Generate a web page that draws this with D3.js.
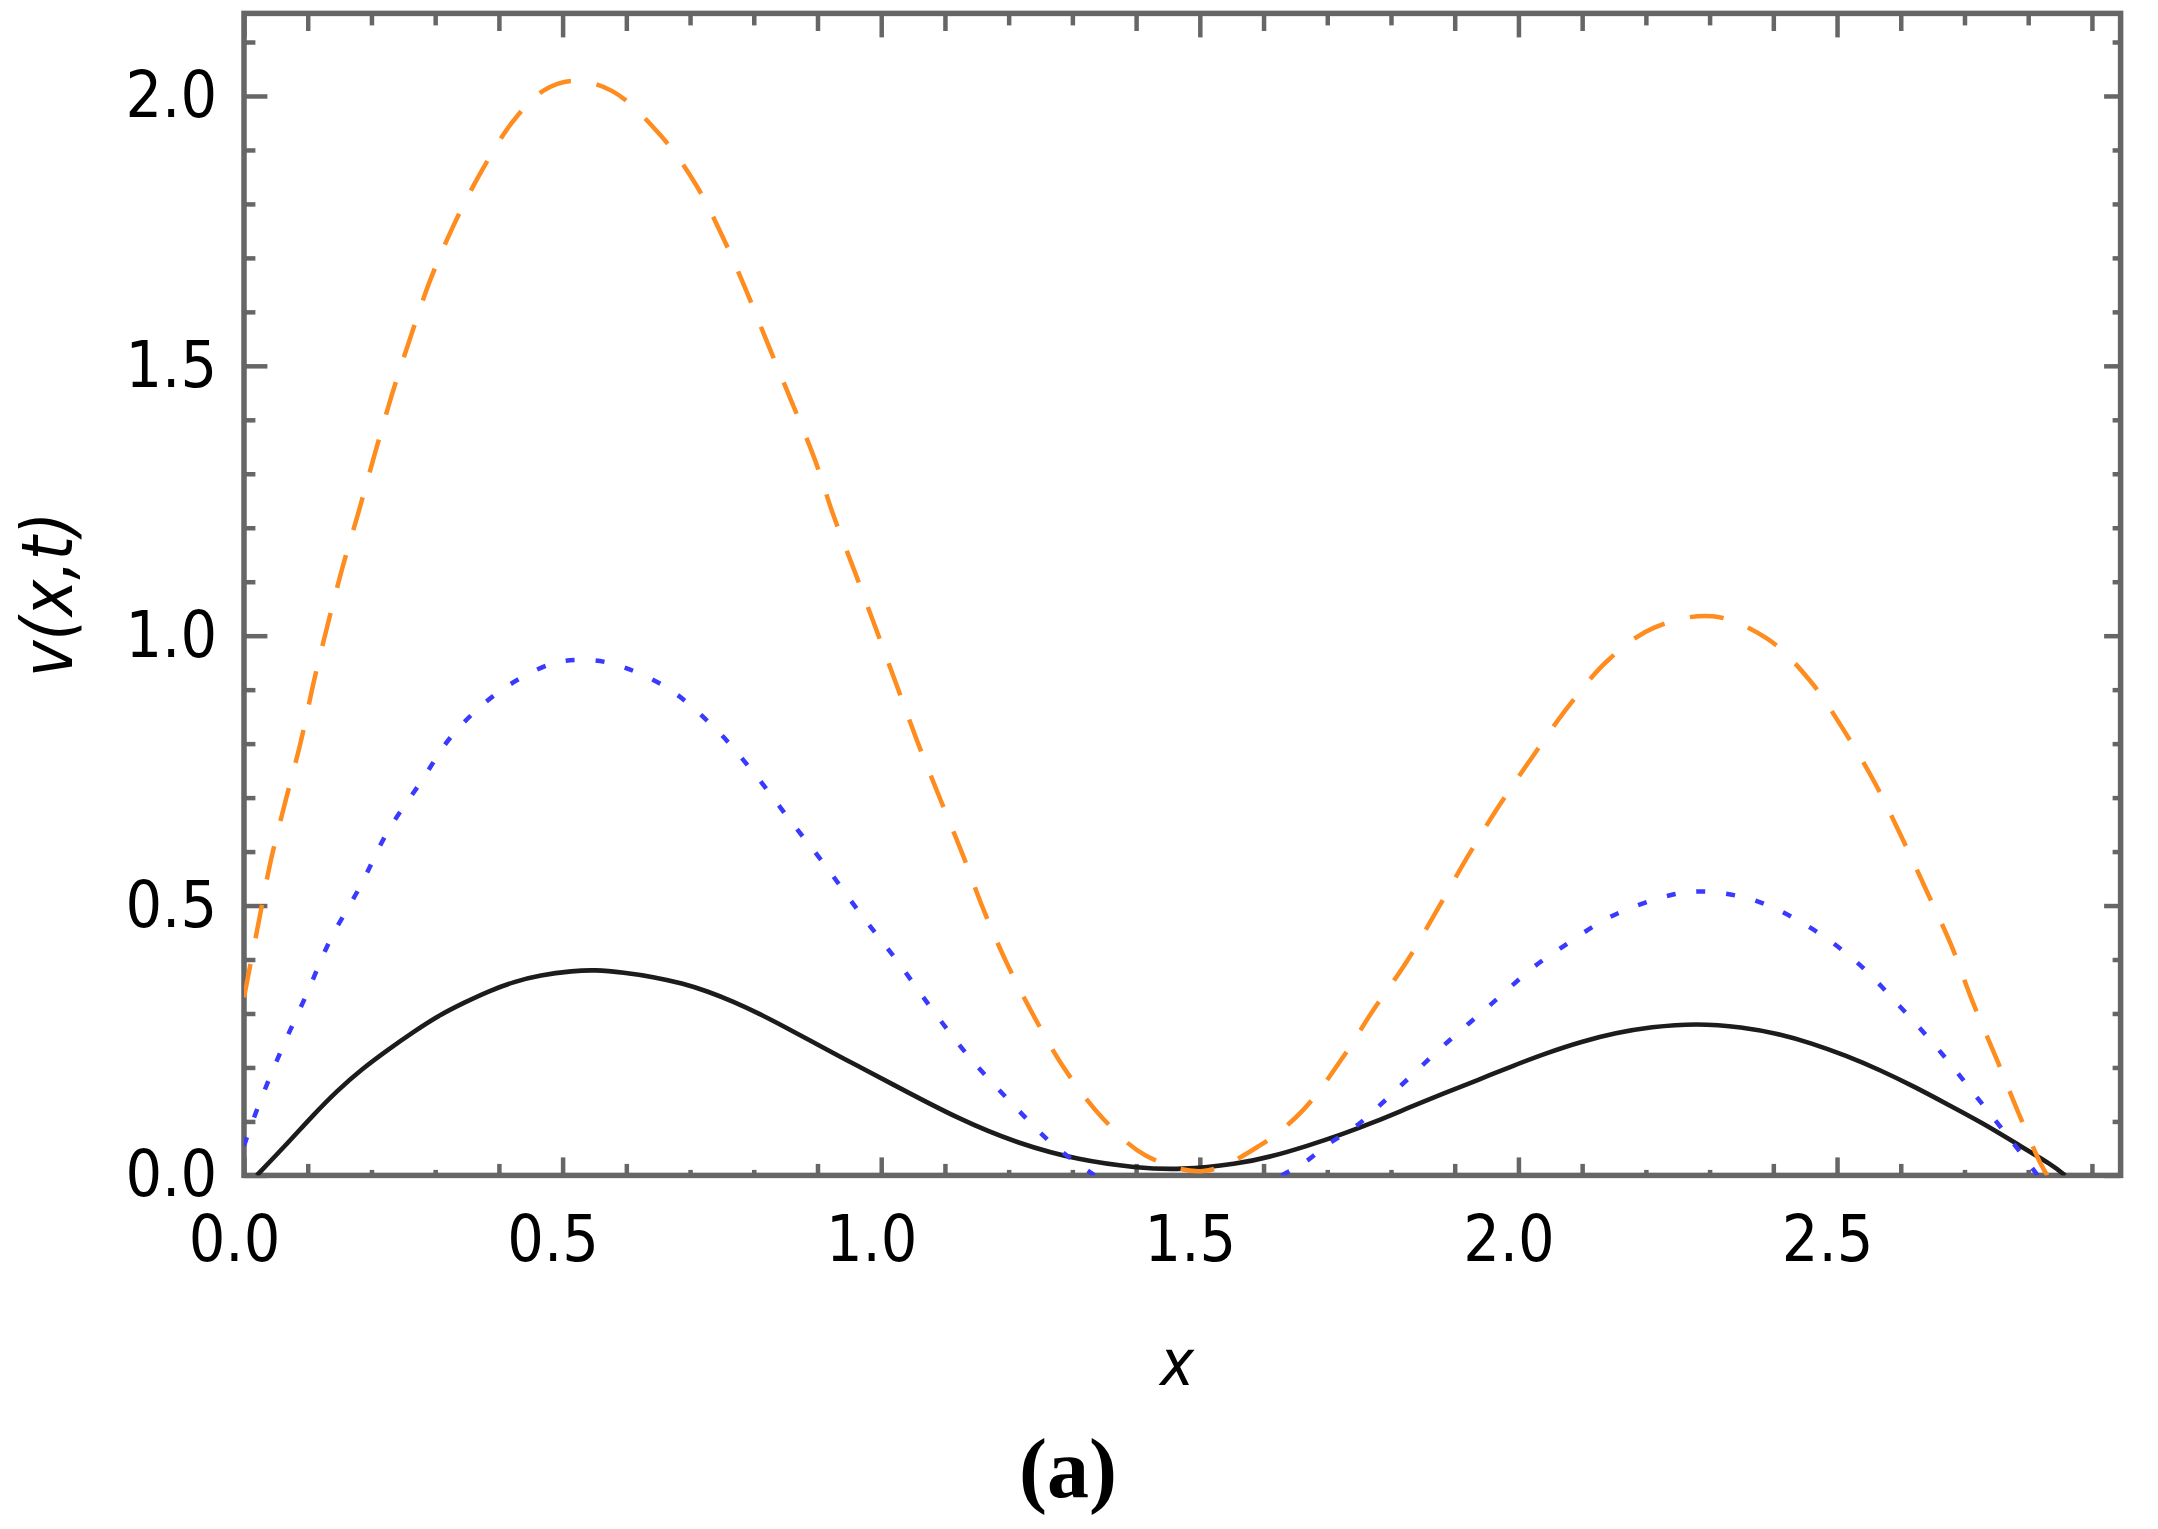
<!DOCTYPE html>
<html>
<head>
<meta charset="utf-8">
<title>v(x,t)</title>
<script src="https://d3js.org/d3.v7.min.js"></script>
<style>
    body { margin: 0; background: #ffffff; }
    #chart-area { width: 2158px; height: 1529px; }
    .tick-label { font-family: "DejaVu Sans Condensed", "DejaVu Sans", sans-serif; font-stretch: condensed; font-size: 64px; fill: #000; }
    .axis-title { font-family: "DejaVu Sans Condensed", "DejaVu Sans", sans-serif; font-stretch: condensed; font-style: italic; fill: #000; }
    .panel-label { font-family: "Liberation Serif", "Times New Roman", serif; font-weight: bold; font-size: 84px; fill: #000; }
</style>
</head>
<body>
<div id="chart-area"></div>
<script>

// * * * * * * * * * * * * * *
// *        data (read off)    *
// * * * * * * * * * * * * * *

let xDomain = [0, 2.945];
let yDomain = [0, 2.153];

let xMajorTicks = [0, 0.5, 1.0, 1.5, 2.0, 2.5];
let xTickLabels = ["0.0", "0.5", "1.0", "1.5", "2.0", "2.5"];
let yMajorTicks = [0, 0.5, 1.0, 1.5, 2.0];
let yTickLabels = ["0.0", "0.5", "1.0", "1.5", "2.0"];
let xMinorTicks = d3.range(0, 30).map(i => i / 10);
let yMinorTicks = d3.range(0, 22).map(i => i / 10);

// [x, v(x,t)] pairs
let blackCurve = [
    [0.020, 0], [0.068, 0.059], [0.107, 0.110], [0.147, 0.158], [0.186, 0.198], [0.226, 0.233],
    [0.266, 0.266], [0.305, 0.296], [0.345, 0.320], [0.385, 0.342], [0.424, 0.359], [0.464, 0.371],
    [0.517, 0.379], [0.550, 0.381], [0.596, 0.376], [0.642, 0.368], [0.688, 0.356], [0.728, 0.341],
    [0.768, 0.322], [0.808, 0.300], [0.847, 0.276], [0.887, 0.251], [0.926, 0.226], [0.966, 0.201],
    [1.005, 0.177], [1.123, 0.103], [1.217, 0.058], [1.311, 0.028], [1.400, 0.014],
    [1.469, 0.010], [1.559, 0.021], [1.613, 0.035], [1.667, 0.054], [1.721, 0.075], [1.775, 0.099],
    [1.829, 0.126], [1.883, 0.152], [1.937, 0.177], [1.991, 0.203], [2.045, 0.227], [2.099, 0.248],
    [2.153, 0.264], [2.207, 0.275], [2.279, 0.282], [2.352, 0.275], [2.406, 0.263], [2.460, 0.245],
    [2.514, 0.222], [2.568, 0.195], [2.622, 0.164], [2.676, 0.130], [2.730, 0.096], [2.784, 0.057],
    [2.838, 0.019], [2.858, 0]
];

// null marks where the curve drops below the axis and is cut off
let blueCurve = [
    [0, 0.055], [0.023, 0.130], [0.060, 0.236], [0.098, 0.335], [0.136, 0.438], [0.183, 0.537],
    [0.225, 0.636], [0.277, 0.728], [0.328, 0.817], [0.399, 0.895], [0.483, 0.948], [0.531, 0.955],
    [0.578, 0.948], [0.662, 0.905], [0.737, 0.831], [0.798, 0.749], [0.855, 0.661], [0.911, 0.576],
    [0.968, 0.484], [1.024, 0.399], [1.081, 0.306], [1.137, 0.221], [1.203, 0.136], [1.269, 0.058],
    [1.335, 0],
    null,
    [1.628, 0], [1.662, 0.022], [1.703, 0.059], [1.748, 0.094], [1.816, 0.167], [1.883, 0.241],
    [1.956, 0.316], [2.026, 0.388], [2.065, 0.420], [2.146, 0.480], [2.238, 0.519], [2.290, 0.526],
    [2.372, 0.509], [2.458, 0.459], [2.531, 0.395], [2.598, 0.314], [2.660, 0.232], [2.718, 0.147],
    [2.775, 0.062], [2.815, 0]
];

let orangeCurve = [
    [0, 0.33], [0.023, 0.469], [0.042, 0.583], [0.065, 0.693], [0.089, 0.803], [0.109, 0.912],
    [0.131, 1.019], [0.154, 1.124], [0.180, 1.230], [0.206, 1.340], [0.232, 1.446], [0.261, 1.552],
    [0.291, 1.655], [0.328, 1.758], [0.371, 1.857], [0.422, 1.953], [0.470, 2.010], [0.515, 2.028],
    [0.578, 2.009], [0.653, 1.928], [0.709, 1.836], [0.752, 1.737], [0.789, 1.637], [0.824, 1.535],
    [0.860, 1.432], [0.895, 1.329], [0.925, 1.223], [0.958, 1.120], [0.991, 1.015], [1.024, 0.909],
    [1.057, 0.803], [1.093, 0.696], [1.128, 0.594], [1.161, 0.491], [1.198, 0.391], [1.241, 0.292],
    [1.288, 0.197], [1.349, 0.104], [1.415, 0.037], [1.505, 0.008], [1.595, 0.056], [1.662, 0.121],
    [1.724, 0.218], [1.772, 0.306], [1.824, 0.395], [1.872, 0.491], [1.920, 0.590], [1.968, 0.682],
    [2.021, 0.774], [2.079, 0.870], [2.141, 0.955], [2.213, 1.015], [2.305, 1.036], [2.391, 0.994],
    [2.458, 0.916], [2.511, 0.824], [2.559, 0.728], [2.602, 0.625], [2.641, 0.526], [2.679, 0.427],
    [2.713, 0.321], [2.751, 0.214], [2.785, 0.115], [2.819, 0.023], [2.830, 0]
];

let frameGray = "#666666";


class ProfileChart {

    constructor(parentElement) {
        this.parentElement = parentElement;

        // black is read densely, so a basis spline smooths out reading noise
        this.series = [
            {name: "black", data: blackCurve, color: "#1c1c1c", width: 4.6, dash: null, curve: d3.curveBasis},
            {name: "blue", data: blueCurve, color: "#3a3aff", width: 4.5, dash: "9,21", curve: d3.curveCatmullRom.alpha(0.5)},
            {name: "orange", data: orangeCurve, color: "#ff8c1e", width: 4.5, dash: "34,26", curve: d3.curveCatmullRom.alpha(0.5)}
        ];

        this.initVis()
    }

    initVis() {
        let vis = this;

        vis.margin = {top: 13.4, right: 37.4, bottom: 353.6, left: 244};
        vis.width = 2158 - vis.margin.left - vis.margin.right;
        vis.height = 1529 - vis.margin.top - vis.margin.bottom;

        // init drawing area
        vis.svg = d3.select("#" + vis.parentElement).append("svg")
            .attr("width", 2158)
            .attr("height", 1529)
            .append("g")
            .attr("transform", `translate(${vis.margin.left}, ${vis.margin.top})`);

        // scales
        vis.x = d3.scaleLinear().domain(xDomain).range([0, vis.width]);
        vis.y = d3.scaleLinear().domain(yDomain).range([vis.height, 0]);

        // clip so curves stop at the frame
        vis.svg.append("clipPath")
            .attr("id", "plot-clip")
            .append("rect")
            .attr("width", vis.width)
            .attr("height", vis.height);

        vis.drawTicks();
        vis.updateVis();
        vis.drawLabels();
    }

    drawTicks() {
        let vis = this;

        // x ticks: long at 0.5 steps, mid at .1/.4, short at .2/.3
        let xLen = (d, long, mid, short) => {
            let k = Math.round(d * 10) % 5;
            if (k === 0) return long;
            if (k === 1 || k === 4) return mid;
            return short;
        };
        let yLen = (d, long, short) => (Math.round(d * 10) % 5 === 0 ? long : short);

        let bottom = vis.svg.append("g")
            .attr("class", "axis x-bottom")
            .attr("transform", `translate(0, ${vis.height})`)
            .call(d3.axisBottom(vis.x).tickValues(xMinorTicks).tickFormat(""));
        bottom.selectAll(".tick line").attr("y2", d => -xLen(d, 18, 11.5, 5.5));

        let top = vis.svg.append("g")
            .attr("class", "axis x-top")
            .call(d3.axisTop(vis.x).tickValues(xMinorTicks).tickFormat(""));
        top.selectAll(".tick line").attr("y2", d => xLen(d, 24, 17.6, 12));

        let left = vis.svg.append("g")
            .attr("class", "axis y-left")
            .call(d3.axisLeft(vis.y).tickValues(yMinorTicks).tickFormat(""));
        left.selectAll(".tick line").attr("x2", d => yLen(d, 23.4, 11.4));

        let right = vis.svg.append("g")
            .attr("class", "axis y-right")
            .attr("transform", `translate(${vis.width}, 0)`)
            .call(d3.axisRight(vis.y).tickValues(yMinorTicks).tickFormat(""));
        right.selectAll(".tick line").attr("x2", d => -yLen(d, 16.5, 8));

        vis.svg.selectAll(".axis .domain").remove();
        vis.svg.selectAll(".axis .tick line")
            .attr("stroke", frameGray)
            .attr("stroke-width", 4.5);

        // frame
        vis.svg.append("rect")
            .attr("class", "frame")
            .attr("width", vis.width)
            .attr("height", vis.height)
            .attr("fill", "none")
            .attr("stroke", frameGray)
            .attr("stroke-width", 5.5);
    }

    updateVis() {
        let vis = this;

        vis.svg.append("g")
            .attr("clip-path", "url(#plot-clip)")
            .selectAll(".curve")
            .data(vis.series)
            .enter().append("path")
            .attr("class", d => "curve " + d.name)
            .attr("d", d => d3.line()
                .defined(p => p !== null)
                .x(p => vis.x(p[0]))
                .y(p => vis.y(p[1]))
                .curve(d.curve)(d.data))
            .attr("fill", "none")
            .attr("stroke", d => d.color)
            .attr("stroke-width", d => d.width)
            .attr("stroke-dasharray", d => d.dash)
            .attr("stroke-linecap", "butt");
    }

    drawLabels() {
        let vis = this;

        // x tick labels
        let xLabels = vis.svg.append("g")
            .attr("transform", `translate(0, ${vis.height})`)
            .call(d3.axisBottom(vis.x).tickValues(xMajorTicks).tickSize(0)
                .tickFormat((d, i) => xTickLabels[i]));
        xLabels.select(".domain").remove();
        xLabels.selectAll("text")
            .attr("class", "tick-label")
            .attr("x", -10)
            .attr("y", 86)
            .attr("dy", null);

        // y tick labels
        let yLabels = vis.svg.append("g")
            .call(d3.axisLeft(vis.y).tickValues(yMajorTicks).tickSize(0)
                .tickFormat((d, i) => yTickLabels[i]));
        yLabels.select(".domain").remove();
        yLabels.selectAll("text")
            .attr("class", "tick-label")
            .attr("x", -27)
            .attr("y", 20.5)
            .attr("dy", null);
        xLabels.attr("font-size", null).attr("font-family", null);
        yLabels.attr("font-size", null).attr("font-family", null);

        // axis titles
        vis.svg.append("text")
            .attr("class", "axis-title")
            .attr("x", 933)
            .attr("y", 1371.6)
            .attr("text-anchor", "middle")
            .attr("font-size", 64)
            .text("x");

        vis.svg.append("text")
            .attr("class", "axis-title")
            .attr("transform", "translate(-172, 581) rotate(-90)")
            .attr("text-anchor", "middle")
            .attr("font-size", 72)
            .attr("textLength", 165)
            .attr("lengthAdjust", "spacingAndGlyphs")
            .text("v(x,t)");

        // panel label
        vis.svg.append("text")
            .attr("class", "panel-label")
            .attr("x", 824)
            .attr("y", 1483.3)
            .attr("text-anchor", "middle")
            .text("(a)");
    }
}

let profileChart = new ProfileChart("chart-area");

</script>
</body>
</html>
